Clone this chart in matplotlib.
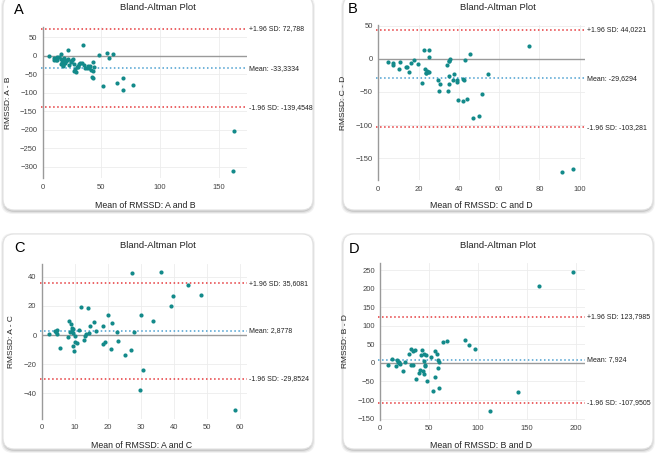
import numpy as np
import matplotlib.pyplot as plt
from matplotlib.patches import FancyBboxPatch

plt.rcParams['font.family'] = ['Liberation Sans', 'DejaVu Sans']

# panel A: RMSSD A vs B
a_mean = [5.4, 9.6, 11.1, 11.9, 10.0, 12.0, 14.0, 15.3, 15.6, 16.2, 17.0, 17.6, 18.4, 19.9,
          16.0, 17.0, 18.0, 19.0, 21.0, 21.9, 21.9, 22.0, 23.8, 24.0, 25.3, 26.0, 26.7, 27.0,
          27.8, 28.0, 28.9, 29.8, 30.0, 31.2, 32.0, 33.2, 34.6, 35.0, 36.1, 37.5, 38.3, 39.8,
          40.0, 40.9, 42.6, 43.0, 44.0, 41.7, 43.2, 48.3, 54.5, 56.8, 60.2, 51.7, 63.6, 68.2,
          68.2, 77.3, 163.0, 162.0]
a_diff = [0.0, -5.4, -9.9, -3.6, -12.0, -10.0, -2.0, 6.2, -8.1, -17.1, -12.5, -25.0, -20.4, -14.2,
          -22.0, -28.0, -5.0, -18.0, -10.0, 15.3, -8.9, -24.0, -16.0, -14.0, -11.5, -8.0, -21.5, -40.0,
          -36.6, -44.0, -31.0, -26.7, -30.0, -23.0, -19.0, -20.4, 28.8, -25.0, -33.0, -34.0, -27.0, -34.0,
          -28.0, -38.0, -17.8, -40.0, -31.0, -57.0, -59.0, 1.8, 8.0, -5.4, 5.4, -80.6, -73.0, -59.0,
          -92.0, -79.0, -203.0, -311.0]
a_stats = [-33.3334, 72.788, -139.4548]
a_stats_txt = ['-33,3334', '72,788', '-139,4548']

# panel B: RMSSD C vs D
b_mean = [4.6, 7.1, 7.1, 10.7, 10.4, 13.7, 14.2, 15.0, 16.4, 17.7, 19.5, 21.7, 22.8, 23.0,
          23.5, 24.0, 24.5, 23.8, 25.3, 25.3, 25.0, 29.4, 30.0, 30.7, 34.4, 33.9, 34.9, 35.2,
          35.4, 35.0, 35.2, 36.9, 37.7, 39.2, 39.3, 39.6, 41.8, 42.2, 42.6, 43.1, 44.1, 45.3,
          46.8, 50.0, 51.7, 54.4, 74.9, 91.0, 96.7]
b_diff = [-4.5, -7.0, -9.5, -4.5, -15.5, -13.0, -13.0, -19.5, -7.0, -1.5, -8.0, -36.0, 13.0, -15.0,
          -22.0, -18.0, -20.0, -21.0, 14.0, 2.0, -20.5, -31.5, -49.0, -38.5, -48.0, -9.5, -25.5, -4.0,
          -1.0, -3.0, -38.5, -31.5, -23.5, -31.5, -34.5, -62.0, -64.0, -30.5, -31.5, -2.0, -61.0, 6.5,
          -89.5, -86.0, -53.5, -22.5, 19.0, -170.5, -167.0]
b_stats = [-29.6294, 44.0221, -103.281]
b_stats_txt = ['-29,6294', '44,0221', '-103,281']

# panel C: RMSSD A vs C
c_mean = [2.2, 4.0, 4.2, 4.5, 4.7, 5.6, 7.8, 8.1, 8.5, 8.9, 9.1, 9.2, 9.3, 9.5, 9.7, 9.9,
          10.1, 10.5, 9.5, 11.7, 11.3, 12.6, 13.0, 13.2, 13.9, 14.3, 14.7, 15.7, 16.3, 18.6,
          18.6, 19.0, 20.0, 20.8, 21.3, 22.8, 23.0, 25.2, 27.2, 27.1, 27.9, 30.0, 30.5, 29.6,
          33.7, 36.0, 39.2, 39.6, 44.2, 48.3, 58.5]
c_diff = [0.7, 3.0, 1.8, 0.9, 3.2, -9.0, -1.6, 9.6, 2.0, 7.8, 4.6, 3.7, 1.1, -7.3, -11.0, -0.7,
          -5.0, -5.7, 4.3, 19.2, 3.7, -3.2, -0.5, 0.7, 18.3, 1.1, 6.4, 8.9, 2.5, 6.2,
          -6.4, -4.8, 13.5, -9.8, 8.5, 1.8, -4.1, -13.9, 42.5, -10.3, 2.3, 13.5, -24.0, -37.7,
          9.4, 43.0, 19.7, 26.7, 34.5, 27.7, -51.7]
c_stats = [2.8778, 35.6081, -29.8524]
c_stats_txt = ['2,8778', '35,6081', '-29,8524']

# panel D: RMSSD B vs D
d_mean = [7.5, 11.6, 16.0, 17.4, 18.0, 18.8, 19.4, 20.0, 22.8, 25.5, 29.6, 31.3, 31.3, 33.7,
          33.7, 35.8, 36.5, 39.2, 40.5, 41.6, 42.2, 43.3, 44.3, 44.3, 45.0, 45.7, 46.7, 46.0,
          47.7, 51.8, 54.2, 55.9, 56.2, 58.0, 59.0, 59.3, 60.0, 60.3, 63.7, 68.5, 86.2, 90.3,
          97.1, 112.4, 140.7, 161.8, 197.3]
d_diff = [-5.4, 10.0, -9.0, 8.0, 3.6, -1.0, 2.0, -2.7, -22.6, 3.6, 23.5, 38.0, -6.3, -5.4,
          32.5, 35.0, -44.0, -26.0, -18.0, 21.7, 36.0, -21.7, -29.0, 23.5, 5.4, -5.4, 21.7, -8.0,
          -48.0, 16.0, -76.0, -38.0, 32.5, 25.0, -14.4, 8.0, 2.7, -67.0, 57.0, 59.6, 62.0, 48.7,
          37.0, -130.0, -79.4, 207.6, 243.7]
d_stats = [7.924, 123.7985, -107.9505]
d_stats_txt = ['7,924', '123,7985', '-107,9505']

W, H = 656, 454
fig = plt.figure(figsize=(W / 100, H / 100), dpi=100)

# background cards (pixel coords)
bg = fig.add_axes([0, 0, 1, 1], zorder=-5)
bg.set_xlim(0, W)
bg.set_ylim(H, 0)
bg.axis('off')
cards = [(3, -4, 310, 214), (343, -4, 310, 214), (3, 234, 310, 215), (343, 234, 310, 215)]
for (x0, y0, w, h) in cards:
    for k, a in [(3, 0.05), (2, 0.07), (1, 0.1)]:
        bg.add_patch(FancyBboxPatch((x0 - k + 1, y0 - k + 2), w + 2 * k - 2, h + 2 * k - 1,
                                    boxstyle="round,pad=0,rounding_size=12",
                                    fc='#000000', ec='none', alpha=a))
    bg.add_patch(FancyBboxPatch((x0, y0), w, h, boxstyle="round,pad=0,rounding_size=11",
                                fc='white', ec='#e2e2e2', lw=0.8))

teal = '#138a8a'
red = '#e5383b'
blue = '#4a9fd0'

panels = [
    dict(letter='A', x=a_mean, y=a_diff, stats=a_stats, txt=a_stats_txt, pair=('A', 'B'),
         box=(42.7, 247, 27, 178), xlim=(0, 174), ylim=(-330, 78),
         xt=np.arange(0, 151, 50), yt=np.arange(-300, 51, 50),
         lpos=(14, 14), tpos=(158, 7), xlpos=(145, 206)),
    dict(letter='B', x=b_mean, y=b_diff, stats=b_stats, txt=b_stats_txt, pair=('C', 'D'),
         box=(378.3, 585, 25, 180), xlim=(0, 102.6), ylim=(-183, 51),
         xt=np.arange(0, 101, 20), yt=np.arange(-150, 51, 50),
         lpos=(348, 13), tpos=(498, 7), xlpos=(481, 206)),
    dict(letter='C', x=c_mean, y=c_diff, stats=c_stats, txt=c_stats_txt, pair=('A', 'C'),
         box=(42, 247, 263.7, 418.7), xlim=(0, 62.2), ylim=(-57.4, 49),
         xt=np.arange(0, 61, 10), yt=np.arange(-40, 41, 20),
         lpos=(14, 252), tpos=(158, 245), xlpos=(142, 445)),
    dict(letter='D', x=d_mean, y=d_diff, stats=d_stats, txt=d_stats_txt, pair=('B', 'D'),
         box=(380.3, 585.3, 263, 419.7), xlim=(0, 209.5), ylim=(-153, 269),
         xt=np.arange(0, 201, 50), yt=np.arange(-150, 251, 50),
         lpos=(349, 253), tpos=(498, 245), xlpos=(481, 445)),
]

for p in panels:
    l, r, t, b = p['box']
    ax = fig.add_axes([l / W, 1 - b / H, (r - l) / W, (b - t) / H])
    ax.set_xlim(*p['xlim'])
    ax.set_ylim(*p['ylim'])
    ax.set_xticks(p['xt'])
    ax.set_yticks(p['yt'])
    ax.tick_params(length=0, labelsize=5.5, labelcolor='#444444', pad=4)
    ax.grid(True, color='#ececec', lw=0.6)
    ax.set_axisbelow(True)
    for s in ['top', 'right', 'bottom']:
        ax.spines[s].set_visible(False)
    ax.spines['left'].set_color('#9a9a9a')
    ax.spines['left'].set_linewidth(1.0)
    ax.axhline(0, color='#9a9a9a', lw=1.0, zorder=1)

    ytr = ax.get_yaxis_transform()
    mean, up, lo = p['stats']
    mt, ut, lt = p['txt']
    ax.plot([-0.01, 1], [up, up], ls=':', color=red, lw=1.1, transform=ytr, clip_on=False, zorder=2)
    ax.plot([-0.01, 1], [lo, lo], ls=':', color=red, lw=1.1, transform=ytr, clip_on=False, zorder=2)
    ax.plot([-0.01, 1], [mean, mean], ls=':', color=blue, lw=1.1, transform=ytr, clip_on=False, zorder=2)
    ax.text(1.008, up, '+1.96 SD: ' + ut, transform=ytr, fontsize=5, va='center', ha='left', color='#222222')
    ax.text(1.008, mean, 'Mean: ' + mt, transform=ytr, fontsize=5, va='center', ha='left', color='#222222')
    ax.text(1.008, lo, '-1.96 SD: ' + lt, transform=ytr, fontsize=5, va='center', ha='left', color='#222222')

    ax.scatter(p['x'], p['y'], s=9, color=teal, zorder=3, linewidths=0)
    ax.set_ylabel('RMSSD: %s - %s' % p['pair'], fontsize=6, color='#222222', labelpad=6)

    bg.text(p['lpos'][0], p['lpos'][1], p['letter'], fontsize=10.5, ha='left', va='baseline', color='black')
    bg.text(p['tpos'][0], p['tpos'][1], 'Bland-Altman Plot', fontsize=6.8, ha='center', va='center', color='#222222')
    bg.text(p['xlpos'][0], p['xlpos'][1], 'Mean of RMSSD: %s and %s' % p['pair'], fontsize=6.3,
            ha='center', va='center', color='#222222')

fig.savefig('out.png', dpi=100)
